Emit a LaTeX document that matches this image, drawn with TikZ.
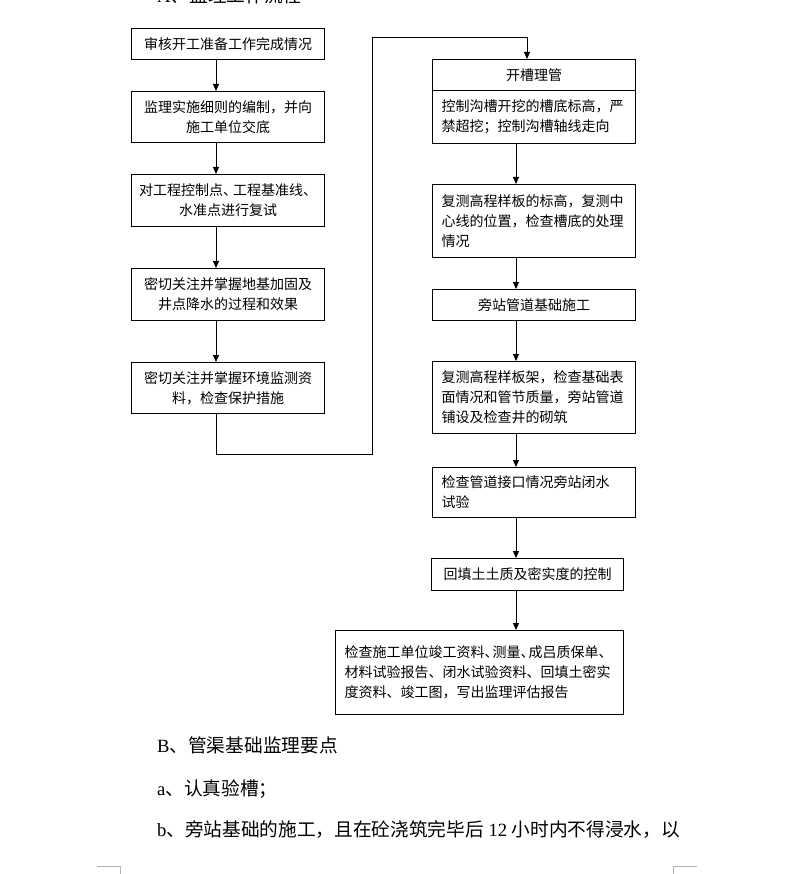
\documentclass[tikz,border=0pt]{standalone}
\usepackage{fontspec}
\setmainfont{Liberation Serif}
\newfontfamily\cjk{Noto Sans CJK SC}
\usetikzlibrary{arrows.meta}
\begin{document}
\begin{tikzpicture}[x=1pt,y=-1pt,
  box/.style={draw, line width=1pt, inner xsep=6pt, inner ysep=2pt,
    font=\cjk\fontsize{14}{20}\selectfont, anchor=north west},
  lbox/.style={box, minimum width=193pt, text width=181pt, align=center},
  rbox/.style={box, minimum width=203pt, text width=185pt, inner xsep=9pt, align=left},
  arr/.style={draw, line width=1pt, -{Triangle[length=7pt,width=6pt]}},
  body/.style={anchor=base west, inner sep=0pt, font=\fontsize{18.67}{22}\selectfont},
  cornermark/.style={draw=gray!60, line width=1pt}
]
\clip (0,0) rectangle (794,874);
\fill[white] (0,0) rectangle (794,874);

\node[body] (tA) at (157,3) {A{\cjk 、监理工作流程}};

% left column
\node[lbox, minimum height=31pt] (b1) at (131,28) {审核开工准备工作完成情况};
\node[lbox, minimum height=51pt] (b2) at (131,91) {监理实施细则的编制，并向\\施工单位交底};
\node[lbox, minimum height=52pt] (b3) at (131,174) {对工程控制点、\kern-4pt 工程基准线、\\水准点进行复试};
\node[lbox, minimum height=52pt] (b4) at (131,268) {密切关注并掌握地基加固及\\井点降水的过程和效果};
\node[lbox, minimum height=51pt] (b5) at (131,362) {密切关注并掌握环境监测资\\料，检查保护措施};

% right column
\node[rbox, align=center, minimum height=31pt] (r1a) at (432,59) {开槽理管};
\node[rbox, minimum height=53pt] (r1b) at (432,90) {控制沟槽开挖的槽底标高，严\\禁超挖；控制沟槽轴线走向};
\node[rbox, minimum height=73pt] (r2) at (432,184) {复测高程样板的标高，复测中\\心线的位置，检查槽底的处理\\情况};
\node[rbox, align=center, minimum height=31pt] (r3) at (432,289) {旁站管道基础施工};
\node[rbox, minimum height=72pt] (r4) at (432,361) {复测高程样板架，检查基础表\\面情况和管节质量，旁站管道\\铺设及检查井的砌筑};
\node[rbox, minimum height=50pt] (r5) at (432,467) {检查管道接口情况旁站闭水\\试验};
\node[box, minimum width=192pt, text width=176pt, inner xsep=8pt, align=center, minimum height=32pt] (r6) at (431,558) {回填土土质及密实度的控制};
\node[box, minimum width=288pt, text width=270pt, inner xsep=9pt, align=left, minimum height=84pt] (r7) at (335,630) {检查施工单位竣工资料、\kern-6pt 测量、\kern-6pt 成吕质保单、\\材料试验报告、闭水试验资料、回填土密实\\度资料、竣工图，写出监理评估报告};

% connectors
\coordinate (lx) at (216,0);
\coordinate (rx) at (516,0);
\draw[arr] (b1.south -| lx) -- (b2.north -| lx);
\draw[arr] (b2.south -| lx) -- (b3.north -| lx);
\draw[arr] (b3.south -| lx) -- (b4.north -| lx);
\draw[arr] (b4.south -| lx) -- (b5.north -| lx);
\coordinate (c1) at (372,454);
\coordinate (c2) at (527,38);
\draw[arr] (b5.south -| lx) |- (c1) |- (c2) -- (c2 |- r1a.north);
\draw[arr] (r1b.south -| rx) -- (r2.north -| rx);
\draw[arr] (r2.south -| rx) -- (r3.north -| rx);
\draw[arr] (r3.south -| rx) -- (r4.north -| rx);
\draw[arr] (r4.south -| rx) -- (r5.north -| rx);
\draw[arr] (r5.south -| rx) -- (r6.north -| rx);
\draw[arr] (r6.south -| rx) -- (r7.north -| rx);

% body text
\node[body] (tB) at (157,752) {B{\cjk 、管渠基础监理要点}};
\node[body] (ta) at (157,795) {a{\cjk 、认真验槽；}};
\node[body] (tb) at (157,836) {b{\cjk 、旁站基础的施工，且在砼浇筑完毕后} 12 {\cjk 小时内不得浸水，以}};

% page corner marks
\draw[cornermark] (97,866) -- (120,866) -- (120,874);
\draw[cornermark] (697,866) -- (673,866) -- (673,874);
\end{tikzpicture}
\end{document}
